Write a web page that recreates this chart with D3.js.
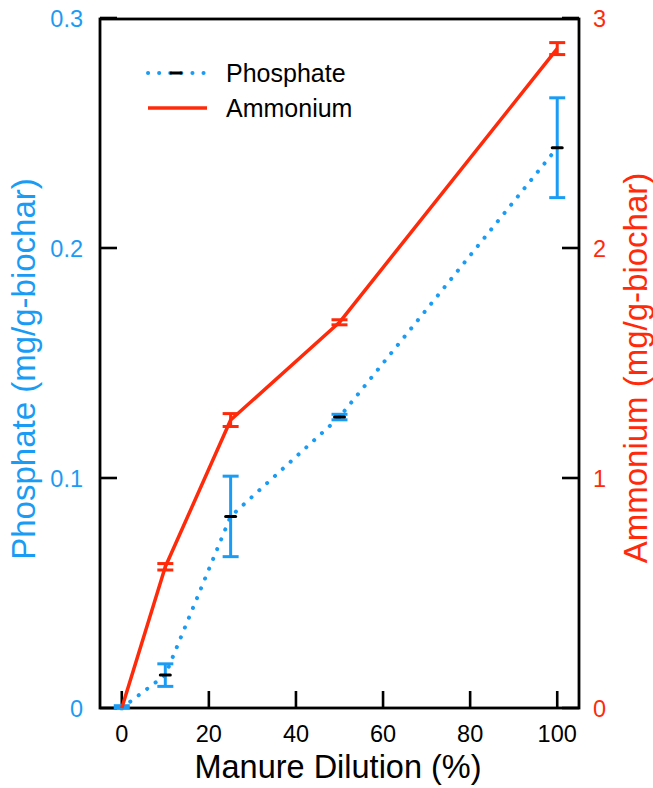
<!DOCTYPE html>
<html>
<head>
<meta charset="utf-8">
<script src="https://cdn.jsdelivr.net/npm/d3@7/dist/d3.min.js"></script>
<style>
  html, body { margin: 0; padding: 0; background: #fff; }
  svg { display: block; }
  text { font-family: "Liberation Sans", Arial, Helvetica, sans-serif; }
</style>
</head>
<body>
<svg id="chart" width="653" height="788"></svg>
<script>
// ---- data ----
const dilution = [0, 10, 25, 50, 100];
const phosphate = [0, 0.0143, 0.0833, 0.1265, 0.2436];
const phosphateErr = [0.001, 0.0049, 0.0175, 0.0012, 0.0217];
const ammonium = [0, 0.614, 1.252, 1.677, 2.867];
const ammoniumErr = [0.005, 0.014, 0.028, 0.011, 0.026];
const xTicks = [0, 20, 40, 60, 80, 100];
const yLeftTicks = [0, 0.1, 0.2, 0.3];
const yRightTicks = [0, 1, 2, 3];
const seriesNames = ["Phosphate", "Ammonium"];

const BLUE = "#1a9cf4";
const RED = "#ff2a0a";

const svg = d3.select("#chart");
const pLeft = 100, pRight = 579, pTop = 18, pBottom = 708;

const x = d3.scaleLinear().domain([-5, 105]).range([pLeft, pRight]);
const yL = d3.scaleLinear().domain([0, 0.3]).range([pBottom, pTop]);
const yR = d3.scaleLinear().domain([0, 3]).range([pBottom, pTop]);

const TICK = 17;

// bottom axis ticks (inward)
svg.append("g").selectAll("line").data(xTicks).join("line")
  .attr("x1", d => x(d)).attr("x2", d => x(d))
  .attr("y1", pBottom).attr("y2", pBottom - TICK)
  .attr("stroke", "#000").attr("stroke-width", 2.6);
svg.append("g").selectAll("text").data(xTicks).join("text")
  .attr("x", d => x(d)).attr("y", 742)
  .attr("text-anchor", "middle").attr("font-size", 23.5).attr("fill", "#000")
  .text(d => d);

// left axis ticks
svg.append("g").selectAll("line").data(yLeftTicks).join("line")
  .attr("x1", pLeft).attr("x2", pLeft + TICK)
  .attr("y1", d => yL(d)).attr("y2", d => yL(d))
  .attr("stroke", "#000").attr("stroke-width", 2.6);
svg.append("g").selectAll("text").data(yLeftTicks).join("text")
  .attr("x", 83).attr("y", d => yL(d) + 8.5)
  .attr("text-anchor", "end").attr("font-size", 23.5).attr("fill", BLUE)
  .text(d => d === 0 ? "0" : d3.format(".1f")(d));

// right axis ticks
svg.append("g").selectAll("line").data(yRightTicks).join("line")
  .attr("x1", pRight).attr("x2", pRight - TICK)
  .attr("y1", d => yR(d)).attr("y2", d => yR(d))
  .attr("stroke", "#000").attr("stroke-width", 2.6);
svg.append("g").selectAll("text").data(yRightTicks).join("text")
  .attr("x", 593).attr("y", d => yR(d) + 8.5)
  .attr("text-anchor", "start").attr("font-size", 23.5).attr("fill", RED)
  .text(d => d);

// frame
svg.append("rect")
  .attr("x", pLeft).attr("y", pTop + 1)
  .attr("width", pRight - pLeft).attr("height", pBottom - pTop - 1)
  .attr("fill", "none").attr("stroke", "#000").attr("stroke-width", 2.8);

// axis titles
svg.append("text")
  .attr("x", 338).attr("y", 778)
  .attr("text-anchor", "middle").attr("font-size", 32.5).attr("fill", "#000")
  .text("Manure Dilution (%)");
svg.append("text")
  .attr("transform", "translate(35,369) rotate(-90)")
  .attr("text-anchor", "middle").attr("font-size", 33).attr("fill", BLUE)
  .text("Phosphate (mg/g-biochar)");
svg.append("text")
  .attr("transform", "translate(647,368) rotate(-90)")
  .attr("text-anchor", "middle").attr("font-size", 33).attr("fill", RED)
  .text("Ammonium (mg/g-biochar)");

const pData = dilution.map((d, i) => ({x: d, y: phosphate[i], e: phosphateErr[i]}));
const aData = dilution.map((d, i) => ({x: d, y: ammonium[i], e: ammoniumErr[i]}));

// phosphate dotted line
svg.append("path").datum(pData)
  .attr("d", d3.line().x(d => x(d.x)).y(d => yL(d.y)))
  .attr("fill", "none").attr("stroke", BLUE).attr("stroke-width", 4)
  .attr("stroke-linecap", "round").attr("stroke-dasharray", "0.1,10.5");

// phosphate error bars
const CAP = 8;
const pe = svg.append("g").attr("stroke", BLUE).attr("stroke-width", 3);
pe.selectAll(".v").data(pData).join("line")
  .attr("x1", d => x(d.x)).attr("x2", d => x(d.x))
  .attr("y1", d => yL(d.y - d.e)).attr("y2", d => yL(d.y + d.e));
pe.selectAll(".t").data(pData).join("line")
  .attr("x1", d => x(d.x) - CAP).attr("x2", d => x(d.x) + CAP)
  .attr("y1", d => yL(d.y + d.e)).attr("y2", d => yL(d.y + d.e));
pe.selectAll(".b").data(pData).join("line")
  .attr("x1", d => x(d.x) - CAP).attr("x2", d => x(d.x) + CAP)
  .attr("y1", d => yL(Math.max(0, d.y - d.e))).attr("y2", d => yL(Math.max(0, d.y - d.e)));

// phosphate mean markers
svg.append("g").selectAll("line").data(pData.slice(1)).join("line")
  .attr("x1", d => x(d.x) - 5).attr("x2", d => x(d.x) + 5)
  .attr("y1", d => yL(d.y)).attr("y2", d => yL(d.y))
  .attr("stroke", "#000").attr("stroke-width", 3).attr("stroke-linecap", "round");

// ammonium line
svg.append("path").datum(aData)
  .attr("d", d3.line().x(d => x(d.x)).y(d => yR(d.y)))
  .attr("fill", "none").attr("stroke", RED).attr("stroke-width", 3.5)
  .attr("stroke-linejoin", "round");

// ammonium error bars
const ae = svg.append("g").attr("stroke", RED).attr("stroke-width", 3);
ae.selectAll(".v").data(aData).join("line")
  .attr("x1", d => x(d.x)).attr("x2", d => x(d.x))
  .attr("y1", d => yR(Math.max(0, d.y - d.e))).attr("y2", d => yR(d.y + d.e));
ae.selectAll(".t").data(aData.slice(1)).join("line")
  .attr("x1", d => x(d.x) - CAP).attr("x2", d => x(d.x) + CAP)
  .attr("y1", d => yR(d.y + d.e)).attr("y2", d => yR(d.y + d.e));
ae.selectAll(".b").data(aData.slice(1)).join("line")
  .attr("x1", d => x(d.x) - CAP).attr("x2", d => x(d.x) + CAP)
  .attr("y1", d => yR(d.y - d.e)).attr("y2", d => yR(d.y - d.e));

// legend
const lg = svg.append("g");
lg.append("line").attr("x1", 148).attr("x2", 206).attr("y1", 73).attr("y2", 73)
  .attr("stroke", BLUE).attr("stroke-width", 4).attr("stroke-linecap", "round")
  .attr("stroke-dasharray", "0.1,11");
lg.append("line").attr("x1", 171).attr("x2", 181).attr("y1", 73).attr("y2", 73)
  .attr("stroke", "#000").attr("stroke-width", 3).attr("stroke-linecap", "round");
lg.append("line").attr("x1", 148).attr("x2", 207).attr("y1", 108).attr("y2", 108)
  .attr("stroke", RED).attr("stroke-width", 3.5);
lg.selectAll("text").data(seriesNames).join("text")
  .attr("x", 226).attr("y", (d, i) => 81.5 + i * 35)
  .attr("font-size", 25).attr("fill", "#000")
  .text(d => d);
</script>
</body>
</html>
